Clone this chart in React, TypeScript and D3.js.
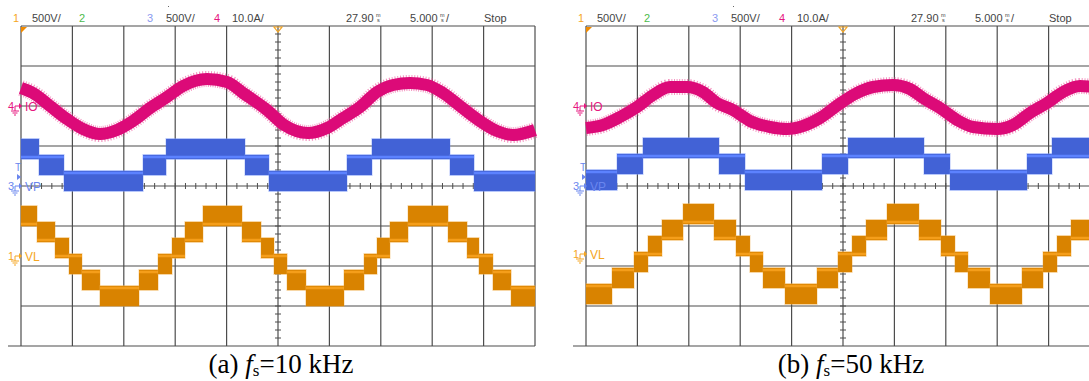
import React from 'react';
import * as d3 from 'd3';

// scope settings: 10 div x 5 ms, 8 div vertical
const timeDomain = [0, 50];
const headerTexts = ['1', '500V/', '2', '3', '500V/', '4', '10.0A/', '27.90', '5.000', 'Stop'];
const headerColors = ['#f5a623', '#444', '#4cbb4c', '#8a9af0', '#444', '#e6177f', '#444', '#444', '#444', '#444'];

// ---------- (a) fs = 10 kHz ----------
const ioTimeA = [0, 1.17, 2.82, 4.47, 6.03, 7.68, 9.34, 10.89, 12.55, 14.2, 15.76, 18.09, 20.04, 21.6, 23.93, 25.6,
  27.92, 29.77, 31.32, 32.98, 34.63, 36.19, 37.84, 39.49, 41.05, 42.7, 44.36, 46.3, 47.86, 50];
const ioAmpA = [4.5, 3.25, 0, -3.25, -5.75, -7, -6, -3.75, -0.5, 2.25, 5, 6.75, 6, 3.25, -1, -4.75,
  -6.75, -5.5, -3, -0.25, 3.5, 5.25, 5.75, 5.25, 3.25, 0, -3.25, -6.25, -7.25, -6];
const vpEdgesA = [0, 1.75, 4.18, 11.87, 14.11, 21.79, 24.12, 31.71, 34.14, 41.73, 44.07, 50];
const vpTopA = [600, 400, 200, 400, 600, 400, 200, 400, 600, 400, 200];
const vlEdgesA = [0, 1.56, 3.31, 4.67, 5.93, 7.68, 11.48, 13.33, 14.69, 15.95, 17.7, 21.5, 23.35, 24.61, 25.88,
  27.72, 31.42, 33.37, 34.63, 35.89, 37.65, 41.54, 43.39, 44.55, 45.91, 47.67, 50];
const vlTopA = [600, 400, 200, 0, -200, -400, -200, 0, 200, 400, 600, 400, 200, 0, -200, -400, -200, 0, 200, 400,
  600, 400, 200, 0, -200, -400];

// ---------- (b) fs = 50 kHz ----------
const ioTimeB = [0, 1.65, 3.31, 4.96, 6.52, 8.17, 9.82, 11.38, 12.74, 14.3, 15.95, 17.9, 19.55, 21.11, 22.76, 24.51,
  26.17, 27.92, 29.86, 31.52, 32.78, 34.44, 36.09, 37.65, 39.98, 41.54, 43.19, 44.84, 46.4, 48.05, 50];
const ioAmpB = [-5.5, -4.75, -2.75, -0.25, 2.75, 4.75, 4.75, 3.5, 0.75, -1, -3.75, -5.25, -5.75, -5, -3, 0.25,
  3, 4.75, 5.25, 4.25, 2, -0.5, -3.5, -5.25, -5.75, -4.75, -1.75, 0.75, 3.5, 5, 4.5];
const vpEdgesB = [0, 3.02, 5.54, 12.94, 15.47, 22.96, 25.49, 32.88, 35.41, 42.9, 45.33, 50];
const vpTopB = [200, 400, 600, 400, 200, 400, 600, 400, 200, 400, 600];
const vlEdgesB = [0, 2.53, 4.67, 6.03, 7.39, 9.44, 12.45, 14.59, 15.95, 17.22, 19.36, 22.47, 24.51, 25.88, 27.24,
  29.28, 32.39, 34.53, 35.89, 37.16, 39.3, 42.41, 44.46, 45.82, 47.18, 49.22, 50];
const vlTopB = [-400, -200, 0, 200, 400, 600, 400, 200, 0, -200, -400, -200, 0, 200, 400, 600, 400, 200, 0, -200,
  -400, -200, 0, 200, 400, 600];

const TOP = 26;
const PW = 514;
const PH = 320;
const headerDx = [-8, 11, 58, 126, 145, 193, 211, 325, 389, 463];

const C = {
  io: '#dc0a78', ioEdge: '#ec4f98',
  vp: '#4262d6', vpEdge: '#6f8ff5', vpLine: '#5c82ff',
  vl: '#d98300', vlEdge: '#f0ad4a', vlLine: '#f59e1a',
  grid: '#4d4d4d',
};

type PanelProps = {
  left: number; lineStart: number; capX: number; tag: string; fs: string;
  ioT: number[]; ioA: number[]; vpE: number[]; vpT: number[]; vlE: number[]; vlT: number[];
  z: { io: number; vp: number; vl: number };
};

const Ground = ({ x, y, color, num, name }: { x: number; y: number; color: string; num: string; name: string }) => (
  <g fill={color} stroke={color}>
    <text x={x - 13} y={y + 4} fontSize={11} stroke="none" fontFamily="Liberation Sans, Arial, sans-serif">{num}</text>
    <line x1={x - 6} y1={y} x2={x - 1} y2={y} strokeWidth={1} />
    <path d={`M${x - 2},${y - 3}L${x + 1},${y}L${x - 2},${y + 3}Z`} stroke="none" />
    <line x1={x - 6} y1={y} x2={x - 6} y2={y + 5} strokeWidth={1} />
    <line x1={x - 10} y1={y + 5} x2={x - 2} y2={y + 5} strokeWidth={1} />
    <line x1={x - 8.5} y1={y + 7} x2={x - 3.5} y2={y + 7} strokeWidth={1} />
    <line x1={x - 7} y1={y + 9} x2={x - 5} y2={y + 9} strokeWidth={1} />
    <text x={x + 4} y={y + 5} fontSize={12} stroke="none" fontFamily="Liberation Sans, Arial, sans-serif">{name}</text>
  </g>
);

function Blocks({ edges, tops, x, y, step, center, fill, edge, line }: any) {
  return (
    <g>
      {tops.map((top: number, i: number) => {
        const lo = top - step;
        const x0 = x(edges[i]);
        const x1 = x(edges[i + 1]);
        const bright = Math.abs(top - center) <= Math.abs(lo - center) ? top : lo;
        return (
          <g key={i}>
            <rect x={x0 - 0.5} y={y(top) - 3} width={x1 - x0 + 1} height={y(lo) - y(top) + 6} fill={edge} opacity={0.5} />
            <rect x={x0} y={y(top) - 2} width={x1 - x0} height={y(lo) - y(top) + 4} fill={fill} />
            <line x1={x0} x2={x1} y1={y(bright)} y2={y(bright)} stroke={line} strokeWidth={2.5} />
          </g>
        );
      })}
    </g>
  );
}

function Panel(p: PanelProps) {
  const x = d3.scaleLinear().domain(timeDomain).range([p.left, p.left + PW]);
  const yIO = d3.scaleLinear().domain([0, 10]).range([p.z.io, p.z.io - 40]);
  const yVP = d3.scaleLinear().domain([0, 500]).range([p.z.vp, p.z.vp - 40]);
  const yVL = d3.scaleLinear().domain([0, 500]).range([p.z.vl, p.z.vl - 40]);
  const ioLine = d3.line<number>()
    .x((_, i) => x(p.ioT[i]))
    .y(d => yIO(d))
    .curve(d3.curveMonotoneX)(p.ioA) || '';

  const vTicks = d3.range(0, 51, 5);
  const hLines = d3.range(0, PH + 1, 40).map(d => TOP + d);
  const cx = x(25);
  const cy = TOP + PH / 2;
  const font = 'Liberation Sans, Arial, sans-serif';

  return (
    <g>
      {/* header */}
      {headerTexts.map((t, i) => (
        <text key={i} x={p.left + headerDx[i]} y={22} fontSize={11} fill={headerColors[i]} fontFamily={font}>{t}</text>
      ))}
      <rect x={p.left + 147} y={6} width={1} height={1} fill="#666" />
      <g fontSize={5.5} fill="#444" fontFamily={font}>
        <text x={p.left + 355} y={17}>m</text><text x={p.left + 356} y={22}>s</text>
        <text x={p.left + 419} y={17}>m</text><text x={p.left + 420} y={22}>s</text>
      </g>
      <text x={p.left + 425} y={22} fontSize={11} fill="#444" fontFamily={font}>/</text>

      {/* grid */}
      {vTicks.map(t => (
        <line key={t} x1={x(t)} x2={x(t)} y1={TOP} y2={TOP + PH} stroke={C.grid} strokeWidth={1.2} />
      ))}
      {hLines.map((y, i) => (
        <line key={i} x1={i === 8 ? p.lineStart : p.left} x2={p.left + PW} y1={y} y2={y}
          stroke={C.grid} strokeWidth={1.2} />
      ))}
      {d3.range(1, 40).map(k => (
        <line key={'vt' + k} x1={cx - 3} x2={cx + 3} y1={TOP + k * 8} y2={TOP + k * 8} stroke={C.grid} strokeWidth={1} />
      ))}
      {d3.range(1, 50).map(k => (
        <line key={'ht' + k} x1={x(k)} x2={x(k)} y1={cy - 3} y2={cy + 3} stroke={C.grid} strokeWidth={1} />
      ))}
      <path d={`M${p.left},${TOP + 1}h6L${p.left},${TOP + 7}Z`} fill="#f08a00" />
      <path d={`M${cx - 4},${TOP + 1}h8L${cx},${TOP + 6}Z`} fill="none" stroke="#f5a623" strokeWidth={1.2} />

      {/* traces */}
      <path d={ioLine} fill="none" stroke={C.ioEdge} strokeWidth={16} strokeDasharray="1 1.6" opacity={0.6} />
      <path d={ioLine} fill="none" stroke={C.io} strokeWidth={12} />
      <Blocks edges={p.vpE} tops={p.vpT} x={x} y={yVP} step={200} center={300} fill={C.vp} edge={C.vpEdge} line={C.vpLine} />
      <Blocks edges={p.vlE} tops={p.vlT} x={x} y={yVL} step={200} center={0} fill={C.vl} edge={C.vlEdge} line={C.vlLine} />

      {/* channel markers */}
      <Ground x={p.left} y={106} color="#e6177f" num="4" name="IO" />
      <Ground x={p.left} y={186} color="#6a86ee" num="3" name="VP" />
      <Ground x={p.left} y={p.z.vl} color="#f5a623" num="1" name="VL" />
      <text x={p.left - 6} y={171} fontSize={10} fill="#6a86ee" fontFamily={font}>T</text>
      <path d={`M${p.left - 4},${174}L${p.left},${177}L${p.left - 4},${180}Z`} fill="#6a86ee" />

      {/* caption */}
      <text x={p.capX} y={373} textAnchor="middle" fontSize={27} fill="#000" fontFamily="Liberation Serif, Times New Roman, serif">
        {p.tag} <tspan fontStyle="italic">f</tspan><tspan fontSize={17} dy={3}>s</tspan><tspan dy={-3}>={p.fs}</tspan>
      </text>
    </g>
  );
}

export default function App() {
  return (
    <svg width={1089} height={381} style={{ position: 'absolute', left: 0, top: 0, background: '#fff' }}>
      <rect width={1089} height={381} fill="#fff" />
      <Panel left={21} lineStart={8} capX={281} tag="(a)" fs="10 kHz"
        ioT={ioTimeA} ioA={ioAmpA} vpE={vpEdgesA} vpT={vpTopA} vlE={vlEdgesA} vlT={vlTopA}
        z={{ io: 106, vp: 189, vl: 256 }} />
      <Panel left={586} lineStart={573} capX={851} tag="(b)" fs="50 kHz"
        ioT={ioTimeB} ioA={ioAmpB} vpE={vpEdgesB} vpT={vpTopB} vlE={vlEdgesB} vlT={vlTopB}
        z={{ io: 106, vp: 188, vl: 254 }} />
    </svg>
  );
}
